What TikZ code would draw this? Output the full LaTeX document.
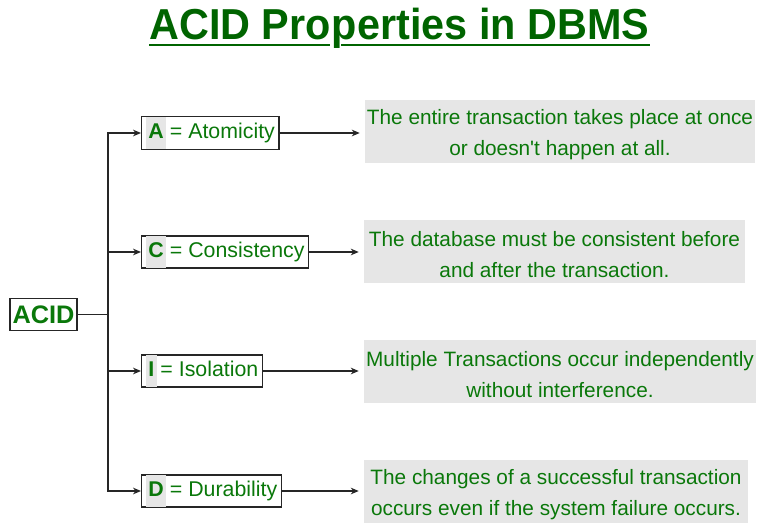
\documentclass[tikz,border=0pt]{standalone}
\usepackage{fontspec}
\setmainfont{Liberation Sans}
\usetikzlibrary{arrows.meta,calc}
\definecolor{titlegreen}{RGB}{0,100,0}
\definecolor{txtgreen}{RGB}{10,120,10}
\definecolor{panel}{RGB}{230,230,230}
\begin{document}
\begin{tikzpicture}[x=0.75pt,y=-0.75pt,
  conn/.style={line width=0.9pt,draw=black!85},
  tip/.style={-{Stealth[length=6pt,width=5pt]}},
  headpart/.style={anchor=base west,text=titlegreen,inner sep=0pt,
    font=\fontsize{32.5}{36}\selectfont\bfseries},
  letterbox/.style={draw=black!85,line width=1pt,fill=white,text=txtgreen,
    font=\fontsize{16}{19}\selectfont,inner xsep=3pt,inner ysep=0pt,
    minimum height=20pt,anchor=west},
  descbox/.style={fill=panel,inner sep=0pt,minimum height=47pt},
  desctext/.style={text=txtgreen,align=center,inner sep=0pt,
    font=\fontsize{15.6}{23.25}\selectfont}]
\useasboundingbox (0,0) rectangle (760,528);
\setlength{\fboxsep}{2pt}
\newcommand{\keyletter}[1]{\colorbox{panel}{\rule[-6pt]{0pt}{20pt}\textbf{#1}}}
\newcommand{\headfit}[1]{\scalebox{0.955}[1]{#1}}

% heading, split so the underline can break under the descender of p
\node[headpart] (t1) at (149,40) {\headfit{ACID Pro}};
\node[headpart] (t2) at (t1.base east) {\headfit{p}};
\node[headpart] (t3) at (t2.base east) {\headfit{erties in DBMS}};
\draw[titlegreen,line width=2.2pt]
  ($(t1.base west)+(0,5)$) -- ($(t2.base west)+(-1,5)$)
  ($(t2.base west)+(10,5)$) -- ($(t3.base east)+(0,5)$);

% root
\node[draw=black!85,line width=1pt,text=txtgreen,font=\fontsize{19}{22}\selectfont\bfseries,
  inner xsep=2pt,inner ysep=1pt,minimum height=24pt] (acid) at (43.5,314.5) {ACID};
\coordinate (jct) at (108,314.5);

% property boxes
\node[letterbox,minimum height=25pt] (pa) at (141,133) {\keyletter{A}\,= Atomicity};
\node[letterbox] (pc) at (141,252) {\keyletter{C}\,= Consistency};
\node[letterbox] (pi) at (141,371) {\keyletter{I}\,= Isolation};
\node[letterbox] (pd) at (141,491) {\keyletter{D}\,= Durability};

% description panels
\node[descbox,minimum width=292.5pt] (da) at (560,131.5) {};
\node[desctext] (ta) at ($(da.center)+(0,3)$)
  {The entire transaction takes place at once\\or doesn\textquotesingle t happen at all.};
\node[descbox,minimum width=285.75pt] (dc) at (554.5,251.5) {};
\node[desctext] (tc) at ($(dc.center)+(0,3)$)
  {The database must be consistent before\\and after the transaction.};
\node[descbox,minimum width=294pt] (di) at (560,371.5) {};
\node[desctext] (ti) at ($(di.center)+(0,3)$)
  {Multiple Transactions occur independently\\without interference.};
\node[descbox,minimum width=288pt] (dd) at (556,491.5) {};
\node[desctext] (td) at ($(dd.center)+(0,3)$)
  {The changes of a successful transaction\\occurs even if the system failure occurs.};

% connectors
\draw[conn] (acid.east) -- (jct);
\draw[conn] (jct) -- (108,133) (jct) -- (108,491);
\foreach \p in {pa,pc,pi,pd}{
  \draw[conn,tip] (jct) |- (\p.west);
}
\draw[conn,tip] (pa.east) -- ($(pa.east -| da.west)+(-5,0)$);
\draw[conn,tip] (pc.east) -- ($(pc.east -| dc.west)+(-5,0)$);
\draw[conn,tip] (pi.east) -- ($(pi.east -| di.west)+(-5,0)$);
\draw[conn,tip] (pd.east) -- ($(pd.east -| dd.west)+(-5,0)$);
\end{tikzpicture}
\end{document}
